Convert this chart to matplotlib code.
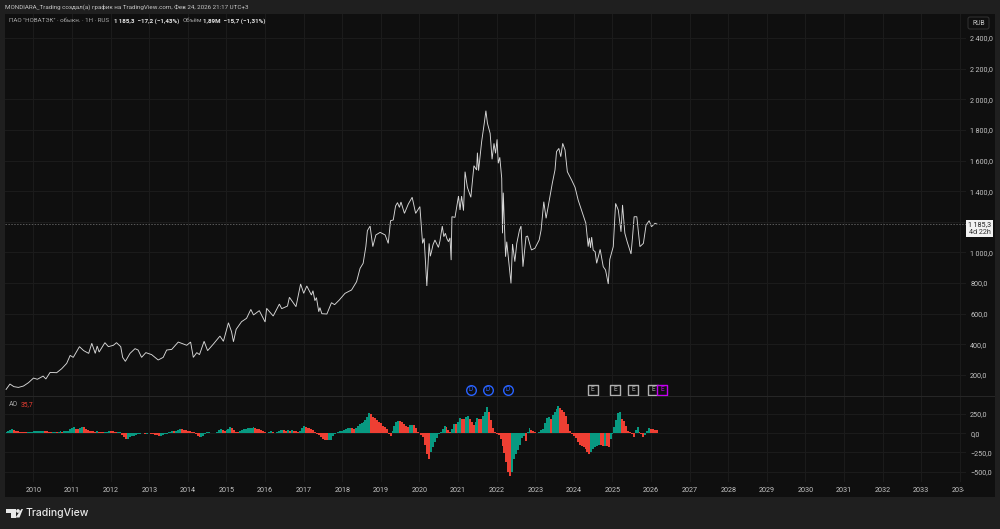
#!/usr/bin/env python3

import matplotlib
matplotlib.use("Agg")

import matplotlib.pyplot as plt
import numpy as np
from matplotlib.patches import Circle, FancyBboxPatch, Polygon, Rectangle
from matplotlib.transforms import Bbox, IdentityTransform, blended_transform_factory

W, H = 1000, 529

# close prices by fractional year
PRICE_YEARS = [
    2009.29, 2009.39, 2009.49, 2009.61, 2009.74, 2009.87, 2010.0, 2010.1, 2010.25, 2010.32,
    2010.43, 2010.6, 2010.73, 2010.86, 2010.95, 2011.03, 2011.19, 2011.3, 2011.43, 2011.51,
    2011.6, 2011.65, 2011.7, 2011.85, 2011.94, 2012.07, 2012.15, 2012.26, 2012.31, 2012.38,
    2012.5, 2012.63, 2012.71, 2012.8, 2012.91, 2013.06, 2013.23, 2013.36, 2013.45, 2013.58,
    2013.75, 2013.97, 2014.07, 2014.14, 2014.23, 2014.3, 2014.42, 2014.51, 2014.66, 2014.83,
    2014.92, 2015.05, 2015.13, 2015.18, 2015.25, 2015.39, 2015.52, 2015.63, 2015.7, 2015.85,
    2016.0, 2016.04, 2016.21, 2016.37, 2016.43, 2016.58, 2016.63, 2016.8, 2016.92, 2017.0,
    2017.08, 2017.2, 2017.24, 2017.29, 2017.33, 2017.39, 2017.42, 2017.47, 2017.6, 2017.72,
    2017.8, 2017.92, 2018.07, 2018.24,
    2018.37, 2018.46, 2018.54, 2018.61, 2018.65, 2018.72, 2018.79, 2018.87, 2018.98, 2019.11,
    2019.19, 2019.25, 2019.32, 2019.38, 2019.43, 2019.48, 2019.52, 2019.61, 2019.71, 2019.81,
    2019.9, 2020.01, 2020.08, 2020.12, 2020.19,
    2020.25, 2020.28, 2020.31, 2020.35, 2020.4, 2020.44, 2020.49, 2020.53, 2020.59, 2020.63,
    2020.67, 2020.71, 2020.75, 2020.79, 2020.82,
    2020.84, 2020.92, 2021.01, 2021.05, 2021.09, 2021.14, 2021.18,
    2021.24, 2021.33, 2021.41, 2021.48, 2021.5, 2021.53, 2021.61, 2021.68, 2021.72, 2021.76,
    2021.83, 2021.88, 2021.93, 2021.97, 2022.01, 2022.04, 2022.08, 2022.13, 2022.15, 2022.17,
    2022.23, 2022.26, 2022.3, 2022.37, 2022.41, 2022.47, 2022.52, 2022.59, 2022.63, 2022.68,
    2022.76, 2022.8, 2022.9, 2022.99, 2023.1, 2023.15, 2023.22, 2023.28, 2023.38, 2023.44,
    2023.51, 2023.55, 2023.61, 2023.66, 2023.71, 2023.77, 2023.83, 2023.94, 2024.03, 2024.11,
    2024.24, 2024.31, 2024.37, 2024.4, 2024.43, 2024.46, 2024.5, 2024.55, 2024.59, 2024.68,
    2024.76, 2024.82, 2024.89,
    2024.93, 2025.02, 2025.08, 2025.15, 2025.22, 2025.26, 2025.32, 2025.38, 2025.48, 2025.52,
    2025.56, 2025.63, 2025.71, 2025.8, 2025.87, 2025.95, 2026.01, 2026.1, 2026.15,
]
PRICE_VALUES = [
    106, 141, 124, 119, 128, 150, 180, 172, 193, 174,
    217, 215, 241, 276, 328, 315, 385, 359, 341, 407,
    341, 389, 350, 411, 385, 394, 411, 385, 315, 289,
    341, 372, 363, 315, 346, 333, 298, 315, 363, 367,
    415, 394, 415, 315, 346, 333, 420, 359, 402, 454,
    420, 541, 483, 417, 498, 548, 570, 628, 592, 620,
    546, 635, 585, 663, 633, 650, 707, 646, 794, 733,
    781, 722, 750, 685, 705, 613, 640, 600, 598, 672,
    659, 689, 733, 755,
    809, 896, 929, 1038, 1142, 1172, 1038, 1114, 1131, 1114,
    1059, 1207, 1212, 1303, 1325, 1294, 1329, 1255, 1316, 1360,
    1255, 1299, 1059, 1092, 781,
    1059, 975, 1005, 1050, 1081, 1060, 1033, 1075, 1172, 1103,
    1125, 1090, 1070, 1095, 950,
    1233, 1229, 1368, 1277, 1368, 1273, 1527,
    1425, 1360, 1566, 1538, 1651, 1534, 1723, 1847, 1925, 1843,
    1777, 1608, 1712, 1647, 1738, 1582, 1621, 1484, 1125, 1390,
    972, 1070, 972, 798, 1055, 940, 1059, 1146, 1172, 907,
    1103, 1107, 1016, 1027, 1081, 1146, 1331, 1223, 1368, 1451,
    1538, 1658, 1679, 1625, 1712, 1669, 1527, 1473, 1425, 1342,
    1244, 1190, 1038, 1095, 1030, 1100, 1015, 1005, 929, 1020,
    907, 885, 794,
    955, 1038, 1320, 1277, 1135, 1310, 1125, 1070, 990, 1103,
    1233, 1233, 1038, 1059, 1179, 1207, 1168, 1190, 1185.3,
]

# awesome oscillator, one bar every AO_STEP years, each row covers one year
AO_START = 2009.3
AO_STEP = 0.05
AO_VALUES = [
    10, 25, 40, 50, 45, 35, 28, 22, 18, 15, 14, 16, 20, 22, 24, 26, 28, 30, 32, 34,
    30, 25, 18, 14, 18, 22, 20, 22, 24, 22, 26, 28, 35, 60, 72, 75, 60, 50, 72, 82,
    80, 60, 45, 35, 28, 25, 22, 25, 14, 12, 10, 14, 22, 34, 32, 25, 18, 12, 14, 18,
    -20, -45, -75, -70, -55, -42, -30, -20, -12, -8, -3, 2, -8, -5, 5, -8, -12, -20, -28, -32,
    -30, -25, -15, -4, 10, 20, 30, 28, 35, 45, 55, 52, 45, 38, 30, 25, 15, 10, -10, -30,
    -50, -45, -30, -8, 10, 18, 8, -3, 5, 15, 40, 50, 42, 30, 38, 60, 82, 70, 40, 15,
    12, 30, 40, 50, 55, 62, 68, 70, 76, 70, 60, 50, 40, 25, 10, 8, 20, 32, 22, 8,
    10, 25, 38, 45, 38, 32, 40, 35, 42, 35, 28, 22, 30, 70, 90, 82, 72, 62, 52, 42,
    15, -5, -25, -50, -72, -84, -85, -85, -84, -40, -10, 5, 15, 25, 35, 48, 60, 68, 70, 64,
    58, 70, 95, 115, 130, 150, 175, 215, 260, 250, 215, 200, 175, 150, 130, 100, 85, 55, -15, -35,
    30, 90, 140, 165, 160, 145, 120, 95, 85, 105, 110, 105, 70, 10, 5, -25, -50, -150, -270, -330,
    -250, -180, -120, -60, -15, 20, 55, 88, 75, 40, 10, 55, 125, 120, 150, 195, 190, 180, 205, 225,
    190, 140, 110, 150, 195, 185, 180, 230, 280, 340, 270, 170, 70, 15, -10, -25, -70, -170, -260, -380,
    -500, -560, -500, -340, -270, -220, -150, -60, -30, -100, 10, 70, 40, 25, 10, 5, 15, 40, 60, 130,
    195, 205, 190, 240, 275, 310, 355, 330, 300, 270, 230, 120, 25, -10, -30, -60, -120, -150, -165, -180,
    -210, -240, -270, -240, -200, -185, -165, -150, -160, -170, -165, -170, -175, -70, -5, 80, 170, 265, 270, 190,
    155, 100, 35, 10, -15, -45, 45, 80, 20, -15, -55, -20, 35, 70, 60, 55, 40, 35.7,
]

PRICE_TICKS = [200, 400, 600, 800, 1000, 1200, 1400, 1600, 1800, 2000, 2200, 2400]
# the 1 200 label sits under the last price tag
PRICE_TICK_LABELS = ["200,0", "400,0", "600,0", "800,0", "1\u2009000,0", "", "1\u2009400,0",
                     "1\u2009600,0", "1\u2009800,0", "2\u2009000,0", "2\u2009200,0", "2\u2009400,0"]
AO_TICKS = [250, 0, -250, -500]
AO_TICK_LABELS = ["250,0", "0,0", "\u2212250,0", "\u2212500,0"]
YEAR_TICKS = list(range(2010, 2035))

DIVIDEND_YEARS = [2021.33, 2021.77, 2022.29]
EARNINGS_YEARS = [2024.49, 2025.07, 2025.54, 2026.05]
NEXT_EARNINGS_YEAR = 2026.28

LAST_PRICE = 1185.3

BG = "#1f1f1f"
PANE = "#0f0f0f"
GRID = "#1b1b1b"
TEXT = "#c4c4c4"
TEAL = "#089981"
RED = "#ee3f33"

plt.rcParams["font.family"] = ["Roboto", "DejaVu Sans"]


def px_axes(fig, left, top, right, bottom):
    ax = fig.add_axes([left / W, 1 - bottom / H, (right - left) / W, (bottom - top) / H])
    ax.set_facecolor(PANE)
    for spine in ax.spines.values():
        spine.set_visible(False)
    ax.grid(True, color=GRID, linewidth=0.8)
    ax.set_axisbelow(True)
    return ax


def fig_text(fig, x, y, s, **kw):
    kw.setdefault("color", TEXT)
    kw.setdefault("fontsize", 4.5)
    kw.setdefault("va", "center")
    return fig.text(x / W, 1 - y / H, s, **kw)


def px_rect(fig, x0, y0, x1, y1, color):
    fig.add_artist(Rectangle((x0 / W, 1 - y1 / H), (x1 - x0) / W, (y1 - y0) / H,
                             transform=fig.transFigure, facecolor=color, edgecolor="none", zorder=-5))


def draw_events(ax, years, label, color, round_shape):
    trans = blended_transform_factory(ax.transData, ax.transAxes)
    y = (396 - 389.5) / (396 - 14)
    marker = "o" if round_shape else "s"
    size = 48 if round_shape else 42
    for yr in years:
        ax.scatter([yr], [y], s=size, marker=marker, transform=trans, facecolor=PANE, edgecolor=color,
                   linewidth=1.0, zorder=5, clip_on=False)
        ax.text(yr, y, label, transform=trans, color=color, fontsize=4.8, ha="center", va="center", zorder=6)


def draw_logo(fig):
    tr = IdentityTransform()
    col = "#e8e8e8"

    def to_disp(pts):
        return [(x, H - y) for x, y in pts]

    fig.add_artist(Polygon(to_disp([(6, 509), (15.5, 509), (15.5, 517.5), (11, 517.5), (11, 513), (6, 513)]),
                           transform=tr, facecolor=col, edgecolor="none"))
    fig.add_artist(Circle((18, H - 511), 1.9, transform=tr, facecolor=col, edgecolor="none"))
    fig.add_artist(Polygon(to_disp([(21.5, 509), (23, 509), (19.5, 517.5), (15.5, 517.5)]),
                           transform=tr, facecolor=col, edgecolor="none"))
    fig_text(fig, 26, 513, "TradingView", color="#e8e8e8", fontsize=7.5, family=["Inter", "DejaVu Sans"],
             weight="medium")


def main():
    fig = plt.figure(figsize=(W / 100, H / 100), dpi=100, facecolor=BG)
    px_rect(fig, 5, 14, 995, 497, PANE)

    x_left = 2010 + (5 - 33.5) / 38.6
    x_right = 2010 + (966 - 33.5) / 38.6

    # price pane
    ax = px_axes(fig, 5, 14, 966, 396)
    ax.plot(PRICE_YEARS, PRICE_VALUES, color="#d8d8d8", linewidth=0.65, solid_joinstyle="miter")
    ax.axhline(LAST_PRICE, color="#5a5a5a", linewidth=0.7, linestyle=(0, (1.5, 1.5)))
    ax.set_xlim(x_left, x_right)
    ax.set_ylim(200 - 21 * 6.527, 200 + 361 * 6.527)
    ax.set_xticks(YEAR_TICKS)
    ax.tick_params(axis="x", length=0, labelbottom=False)
    ax.set_yticks(PRICE_TICKS, PRICE_TICK_LABELS)
    ax.yaxis.tick_right()
    ax.tick_params(axis="y", length=0, pad=3, labelsize=5.2, labelcolor=TEXT)
    draw_events(ax, DIVIDEND_YEARS, "D", "#2962ff", True)
    draw_events(ax, EARNINGS_YEARS, "E", "#b0b0b0", False)
    draw_events(ax, [NEXT_EARNINGS_YEAR], "E", "#c400f0", False)

    # oscillator pane
    ao_ax = px_axes(fig, 5, 396, 966, 482)
    ao = np.array(AO_VALUES, dtype=float)
    ao_x = AO_START + AO_STEP * np.arange(len(ao))
    colors = [TEAL if i == 0 or ao[i] >= ao[i - 1] else RED for i in range(len(ao))]
    ao_ax.bar(ao_x, ao, width=AO_STEP, color=colors, linewidth=0)
    ao_ax.set_xlim(x_left, x_right)
    ao_ax.set_ylim(-(482 - 433.2) * 13.02, (433.2 - 396) * 13.02)
    ao_ax.set_xticks(YEAR_TICKS, [str(y) for y in YEAR_TICKS])
    ao_ax.set_yticks(AO_TICKS, AO_TICK_LABELS)
    ao_ax.yaxis.tick_right()
    ao_ax.tick_params(axis="y", length=0, pad=3, labelsize=5.2, labelcolor=TEXT)
    ao_ax.tick_params(axis="x", length=0, pad=3.5, labelsize=5.2, labelcolor=TEXT)
    # the last year label gets cut off at the pane edge
    clip = Bbox.from_extents(0, 0, 964, H)
    for label in ao_ax.get_xticklabels():
        label.set_clip_box(clip)
        label.set_clip_on(True)

    # pane separator
    fig.add_artist(Rectangle((5 / W, 1 - 396.5 / H), 990 / W, 1 / H, transform=fig.transFigure,
                             facecolor="#262626", edgecolor="none"))

    # headers
    fig_text(fig, 5, 7, "MONDIARA_Trading создал(а) график на TradingView.com, Фев 24, 2026 21:17 UTC+3")
    fig_text(fig, 9, 21, "ПАО \"НОВАТЭК\" · обыкн. · 1H · RUS", color="#a8a8a8")
    fig_text(fig, 114, 21, "1\u2009185,3  \u221217,2 (\u22121,43%)", color="#e6e6e6", weight="bold")
    fig_text(fig, 183, 21, "Объём", color="#a8a8a8")
    fig_text(fig, 203, 21, "1,89M  \u221215,7 (\u22121,31%)", color="#e6e6e6", weight="bold")
    fig_text(fig, 9, 405, "AO", color="#a8a8a8", fontsize=4.9)
    fig_text(fig, 21, 405, "35,7", color=RED, fontsize=4.9)

    # currency tag
    fig.add_artist(FancyBboxPatch((968, H - 29), 21, 12, boxstyle="round,pad=0,rounding_size=2",
                                  transform=IdentityTransform(), facecolor=PANE, edgecolor="#333333", linewidth=0.7))
    fig_text(fig, 978.5, 23.5, "RUB", ha="center", fontsize=4.9)

    # last price tag
    fig.add_artist(Rectangle((966 / W, 1 - 237 / H), 27 / W, 17 / H, transform=fig.transFigure,
                             facecolor="#f2f2f2", edgecolor="none"))
    fig_text(fig, 979.5, 224.5, "1\u2009185,3", ha="center", color="#222222", fontsize=5.2)
    fig_text(fig, 979.5, 232, "4d 22h", ha="center", color="#333333", fontsize=5.2)

    draw_logo(fig)

    fig.savefig("out.png", dpi=100, facecolor=fig.get_facecolor())


if __name__ == "__main__":
    main()
